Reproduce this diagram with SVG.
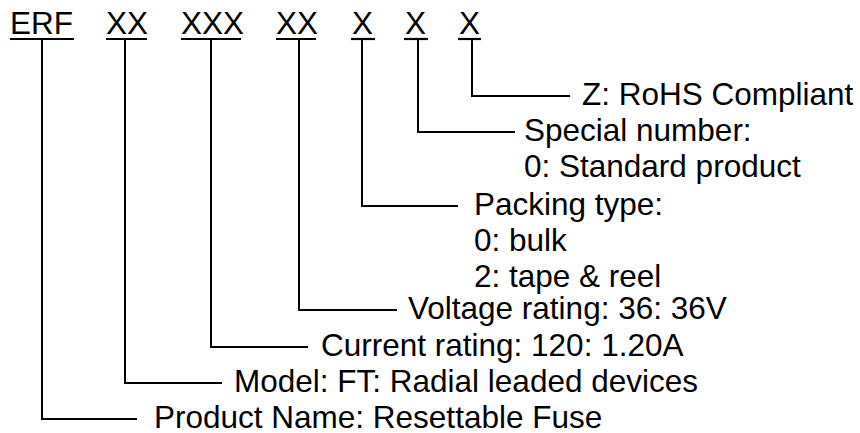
<svg xmlns="http://www.w3.org/2000/svg" width="860" height="433" viewBox="0 0 860 433">
<style>
text{font-family:"Liberation Sans",Arial,sans-serif;font-size:31.5px;fill:#000}
.u{stroke:#000;stroke-width:2.2;fill:none}
.c{stroke:#000;stroke-width:2;fill:none}
</style>
<rect width="860" height="433" fill="#fff"/>
<g id="code">
<g id="code-erf"><text x="10" y="34">ERF</text><line class="u" x1="10" y1="39" x2="74" y2="39"/></g>
<g id="code-model"><text x="106" y="34">XX</text><line class="u" x1="106" y1="39" x2="147" y2="39"/></g>
<g id="code-current"><text x="181" y="34">XXX</text><line class="u" x1="181" y1="39" x2="241" y2="39"/></g>
<g id="code-voltage"><text x="276" y="34">XX</text><line class="u" x1="276" y1="39" x2="316" y2="39"/></g>
<g id="code-packing"><text x="352" y="34">X</text><line class="u" x1="351" y1="39" x2="375" y2="39"/></g>
<g id="code-special"><text x="405" y="34">X</text><line class="u" x1="404" y1="39" x2="428" y2="39"/></g>
<g id="code-rohs"><text x="459" y="34">X</text><line class="u" x1="458" y1="39" x2="481" y2="39"/></g>
</g>
<g id="connectors">
<polyline class="c" points="472,40 472,96 570,96"/>
<polyline class="c" points="418,40 418,132 515,132"/>
<polyline class="c" points="362,40 362,206 458,206"/>
<polyline class="c" points="299,40 299,310 397,310"/>
<polyline class="c" points="211,40 211,347 308,347"/>
<polyline class="c" points="125,40 125,383 222,383"/>
<polyline class="c" points="42,40 42,419 137,419"/>
</g>
<g id="label-rohs"><text x="582" y="105">Z: RoHS Compliant</text></g>
<g id="label-special"><text x="524" y="141">Special number:</text><text x="524" y="177">0: Standard product</text></g>
<g id="label-packing"><text x="474" y="215">Packing type:</text><text x="474" y="251">0: bulk</text><text x="474" y="287">2: tape &amp; reel</text></g>
<g id="label-voltage"><text x="408" y="319">Voltage rating: 36: 36V</text></g>
<g id="label-current"><text x="321" y="356">Current rating: 120: 1.20A</text></g>
<g id="label-model"><text x="234" y="392">Model: FT: Radial leaded devices</text></g>
<g id="label-product"><text x="154" y="428">Product Name: Resettable Fuse</text></g>
</svg>
